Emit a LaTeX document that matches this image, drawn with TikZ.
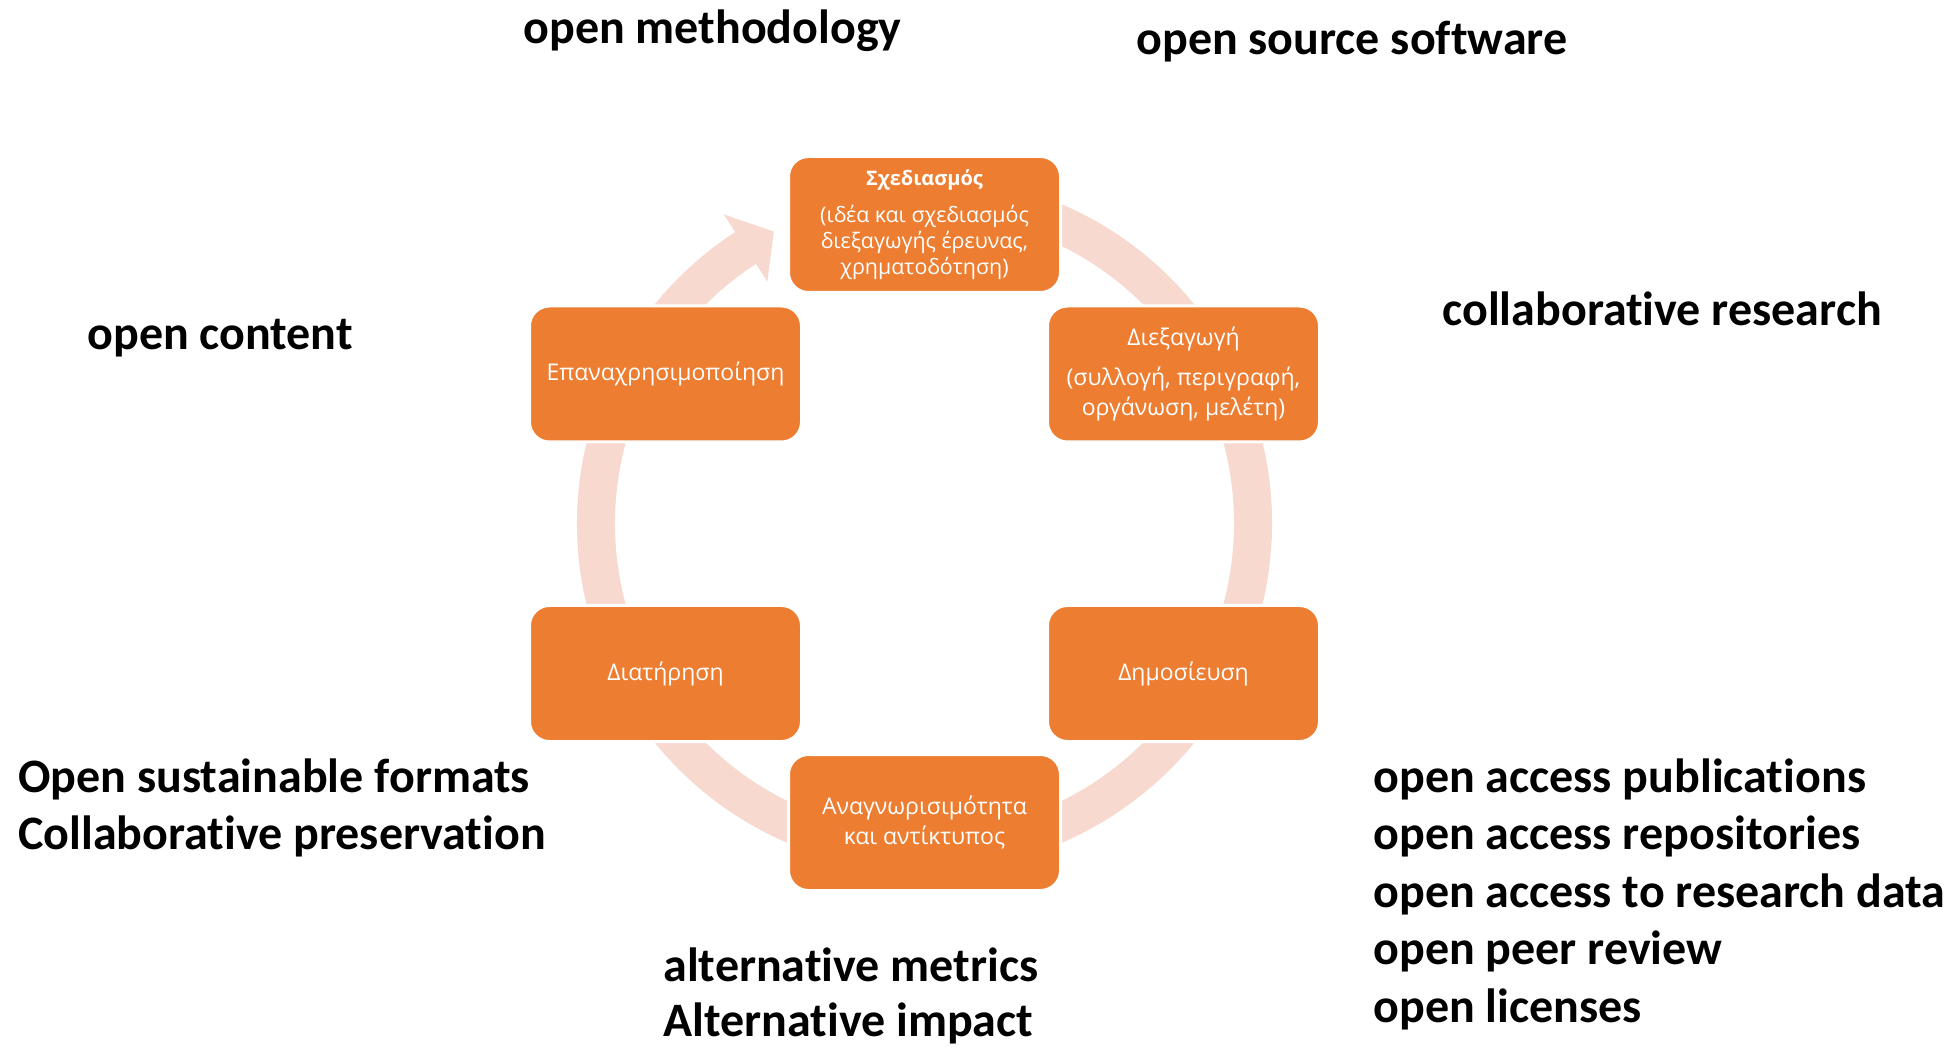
\documentclass[tikz,border=0pt]{standalone}
\usepackage{fontspec}
\setmainfont{Carlito}[Ligatures={NoCommon}]
\newfontfamily\boxfont{Open Sans}
\usetikzlibrary{calc}
\definecolor{boxorange}{HTML}{ED7D31}
\definecolor{ringpink}{HTML}{F7D9CF}
\begin{document}
\begin{tikzpicture}[x=0.5pt,y=0.5pt,
  lbl/.style={font=\fontsize{24}{28.75}\selectfont\bfseries, anchor=base west, inner sep=0pt},
  cyc/.style={rectangle, rounded corners=10pt, fill=boxorange, draw=white, line width=1.5pt,
    minimum width=136pt, minimum height=68pt, text=white,
    font=\boxfont\fontsize{11.5}{15}\selectfont, align=center, inner sep=0pt},
  ring/.style={draw=ringpink, line width=19pt}]
\path[use as bounding box, fill=white] (0,0) rectangle (1944,-1047);
\coordinate (C) at (924.5,-523.5);
% ring and arrow head
\draw[ring] ([shift={(C)}]123:328.5) arc[start angle=123, end angle=472, radius=328.5];
\fill[ringpink] ([shift={(C)}]123:368.5) -- ([shift={(C)}]117.3:328.5) -- ([shift={(C)}]123:288.5) -- cycle;
% boxes
\node[cyc, font=\boxfont\fontsize{10.7}{13}\selectfont] (S) at (924.5,-224.5) {{\fontsize{10}{13}\selectfont\bfseries Σχεδιασμός}\\[5.5pt](ιδέα και σχεδιασμός\\διεξαγωγής έρευνας,\\χρηματοδότηση)};
\node[cyc] (D) at (1183.5,-374) {Διεξαγωγή\\[5pt](συλλογή, περιγραφή,\\οργάνωση, μελέτη)};
\node[cyc] (P) at (1183.5,-673.5) {Δημοσίευση};
\node[cyc] (A) at (924.5,-822.5) {Αναγνωρισιμότητα\\και αντίκτυπος};
\node[cyc] (T) at (665.5,-673.5) {Διατήρηση};
\node[cyc] (E) at (665.5,-374) {Επαναχρησιμοποίηση};
% labels
\node[lbl] (l1) at (523,-44) {open methodology};
\node[lbl] (l2) at (1136,-55) {open source software};
\node[lbl] (l3) at (87,-350) {open content};
\node[lbl] (l4) at (1442,-326) {collaborative research};
\node[lbl] (l5) at (18,-792) {Open sustainable formats};
\node[lbl] (l6) at (18,-849.5) {Collaborative preservation};
\node[lbl] (l7) at (663,-981) {alternative metrics};
\node[lbl] (l8) at (663,-1036) {Alternative impact};
\node[lbl] (r1) at (1373,-792) {open access publications};
\node[lbl] (r2) at (1373,-849.5) {open access repositories};
\node[lbl] (r3) at (1373,-907) {open access to research data};
\node[lbl] (r4) at (1373,-964.5) {open peer review};
\node[lbl] (r5) at (1373,-1022) {open licenses};
\end{tikzpicture}
\end{document}
